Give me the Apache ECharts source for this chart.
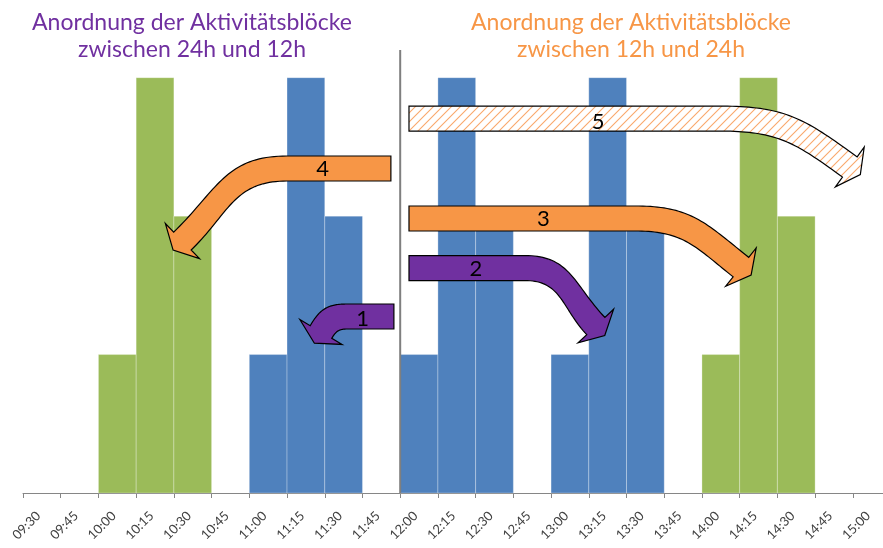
<!DOCTYPE html>
<html><head><meta charset="utf-8">
<script src="https://cdn.jsdelivr.net/npm/echarts@6/dist/echarts.min.js"></script>
<style>html,body{margin:0;padding:0;background:#fff}#c{width:883px;height:548px}</style>
</head><body><div id="c"></div>
<script>
// ---- data ----
const tickLabels = ['09:30','09:45','10:00','10:15','10:30','10:45','11:00','11:15','11:30','11:45','12:00','12:15','12:30','12:45','13:00','13:15','13:30','13:45','14:00','14:15','14:30','14:45','15:00'];
const binStart = ['10:00','10:15','10:30','11:00','11:15','11:30','12:00','12:15','12:30','13:00','13:15','13:30','14:00','14:15','14:30'];
const binCounts = [1,3,2,1,3,2,1,3,2,1,3,2,1,3,2];
const binGroup = ['green','green','green','blue','blue','blue','blue','blue','blue','blue','blue','blue','green','green','green'];
const dividerTime = '12:00';
const titleLeft = 'Anordnung der Aktivitätsblöcke\nzwischen 24h und 12h';
const titleRight = 'Anordnung der Aktivitätsblöcke\nzwischen 12h und 24h';
// arrows: tail [minutes, value], bend minutes, head [minutes, value], head angle (deg), label, label pos
const arrowLabel = ['1','2','3','4','5'];
const arrowTail = [[717.5,1.275],[723.5,1.625],[723.5,1.983],[716.3,2.344],[723.5,2.705]];
const arrowBend = [698.8,769.6,813.3,675.0,846.3];
const arrowHead = [[688.5,1.163],[797.8,1.206],[855.5,1.632],[633.4,1.820],[898.8,2.355]];
const arrowAngle = [120.5,46.6,38.5,135.8,36.0];
const arrowLabelPos = [[705.1,1.255],[750.1,1.616],[776.9,1.977],[689.2,2.338],[798.7,2.682]];
const arrowKind = ['purple','purple','orange','orange','hatch'];

// ---- helpers ----
const toMin = s => { const [h,m] = s.split(':').map(Number); return h*60+m; };
const fmt = v => String(Math.floor(v/60)).padStart(2,'0') + ':' + String(v%60).padStart(2,'0');
const BIN = 15;
const colors = {green:'#9BBB59', blue:'#4F81BD', purple:'#7030A0', orange:'#F79646'};

const hatch = document.createElement('canvas');
hatch.width = 9; hatch.height = 9;
(function(){
  const g = hatch.getContext('2d');
  g.fillStyle = '#fff'; g.fillRect(0,0,9,9);
  g.strokeStyle = '#F9A86C'; g.lineWidth = 1.1;
  g.beginPath();
  g.moveTo(-1,10); g.lineTo(10,-1);
  g.moveTo(-1,1); g.lineTo(1,-1);
  g.moveTo(8,10); g.lineTo(10,8);
  g.stroke();
})();
const hatchFill = {image: hatch, repeat: 'repeat'};

const barData = binStart.map((s,i) => [toMin(s), toMin(s)+BIN, binCounts[i], i]);
const arrowData = arrowLabel.map((l,i) => [arrowTail[i][0], arrowTail[i][1], arrowBend[i], arrowHead[i][0], arrowHead[i][1], arrowAngle[i], arrowLabelPos[i][0], arrowLabelPos[i][1], i]);

function cubic(p0,p1,p2,p3,n){
  const out=[];
  for(let k=1;k<=n;k++){const t=k/n,u=1-t;
    out.push([u*u*u*p0[0]+3*u*u*t*p1[0]+3*u*t*t*p2[0]+t*t*t*p3[0],
              u*u*u*p0[1]+3*u*u*t*p1[1]+3*u*t*t*p2[1]+t*t*t*p3[1]]);}
  return out;
}

const W = 25, HW = 24.5, HL = 13, K = 0.45;
function renderArrow(params, api){
  const i = api.value(8);
  const tail = api.coord([api.value(0), api.value(1)]);
  const bendX = api.coord([api.value(2), api.value(1)])[0];
  const end = api.coord([api.value(3), api.value(4)]);
  const a = api.value(5)*Math.PI/180;
  const d = [Math.cos(a), Math.sin(a)], n = [-d[1], d[0]];
  const s0 = bendX >= tail[0] ? 1 : -1;
  const dt = [s0,0], nt = [0,s0];
  function edge(s){
    const t0 = [tail[0], tail[1] + nt[1]*s*W/2];
    const b = [bendX, tail[1] + nt[1]*s*W/2];
    const e = [end[0] + n[0]*s*W/2, end[1] + n[1]*s*W/2];
    const L = Math.hypot(e[0]-b[0], e[1]-b[1]);
    const c1 = [b[0]+dt[0]*K*L, b[1]];
    const c2 = [e[0]-d[0]*K*L, e[1]-d[1]*K*L];
    return [t0, b].concat(cubic(b,c1,c2,e,40));
  }
  const e1 = edge(-1), e2 = edge(1);
  const pts = e1.concat([
    [end[0]-n[0]*HW, end[1]-n[1]*HW],
    [end[0]+d[0]*HL, end[1]+d[1]*HL],
    [end[0]+n[0]*HW, end[1]+n[1]*HW]
  ]).concat(e2.slice().reverse());
  const kind = arrowKind[i];
  const lp = api.coord([api.value(6), api.value(7)]);
  return {type:'group', children:[
    {type:'polygon', shape:{points:pts}, style:{fill: kind==='hatch'?hatchFill:colors[kind], stroke:'#000', lineWidth:1.2, lineJoin:'miter'}},
    {type:'text', x:lp[0], y:lp[1], style:{text: arrowLabel[i], font:'22px Lato', fill:'#000', align:'center', verticalAlign:'middle'}}
  ]};
}

function renderBar(params, api){
  const p0 = api.coord([api.value(0), 0]);
  const p1 = api.coord([api.value(1), api.value(2)]);
  const g = binGroup[api.value(3)];
  return {type:'rect', shape:{x:p0[0], y:p1[1], width:p1[0]-p0[0], height:p0[1]-p1[1]},
    style:{fill: colors[g], stroke:'rgba(255,255,255,0.28)', lineWidth:1}};
}

const ticks = tickLabels.map(toMin);
const chart = echarts.init(document.getElementById('c'), null, {renderer:'canvas'});
chart.setOption({
  animation:false,
  backgroundColor:'#fff',
  grid:{left:23, right:0, top:50, bottom:55, containLabel:false, outerBoundsMode:'none'},
  xAxis:{type:'value', min:570, max:912, interval:15,
    axisLine:{show:true, lineStyle:{color:'#868686', width:1}},
    axisTick:{show:true, length:5, lineStyle:{color:'#868686'}, customValues:ticks},
    axisLabel:{rotate:45, fontFamily:'Lato', fontSize:13, color:'#404040', margin:29, lineHeight:10, align:'center', verticalAlign:'top',
      hideOverlap:false, customValues:ticks, formatter:v=>fmt(v)},
    splitLine:{show:false}},
  yAxis:{type:'value', min:0, max:3.2, show:false, splitLine:{show:false}},
  graphic:[
    {type:'text', x:192, y:9, z:10, style:{text:titleLeft, font:'23px Lato', fill:colors.purple, align:'center', verticalAlign:'top', lineHeight:27}},
    {type:'text', x:631, y:9, z:10, style:{text:titleRight, font:'23px Lato', fill:colors.orange, align:'center', verticalAlign:'top', lineHeight:27}}
  ],
  series:[
    {type:'custom', name:'bins', renderItem:renderBar, data:barData, encode:{x:[0,1], y:2}, z:1, clip:false},
    {type:'line', name:'divider', data:[[toMin(dividerTime),0],[toMin(dividerTime),3.2]], showSymbol:false, symbol:'none', lineStyle:{color:'#7F7F7F', width:2}, z:3, silent:true},
    {type:'custom', name:'arrows', renderItem:renderArrow, data:arrowData, encode:{x:0, y:1}, z:5, clip:false}
  ]
});
</script></body></html>
